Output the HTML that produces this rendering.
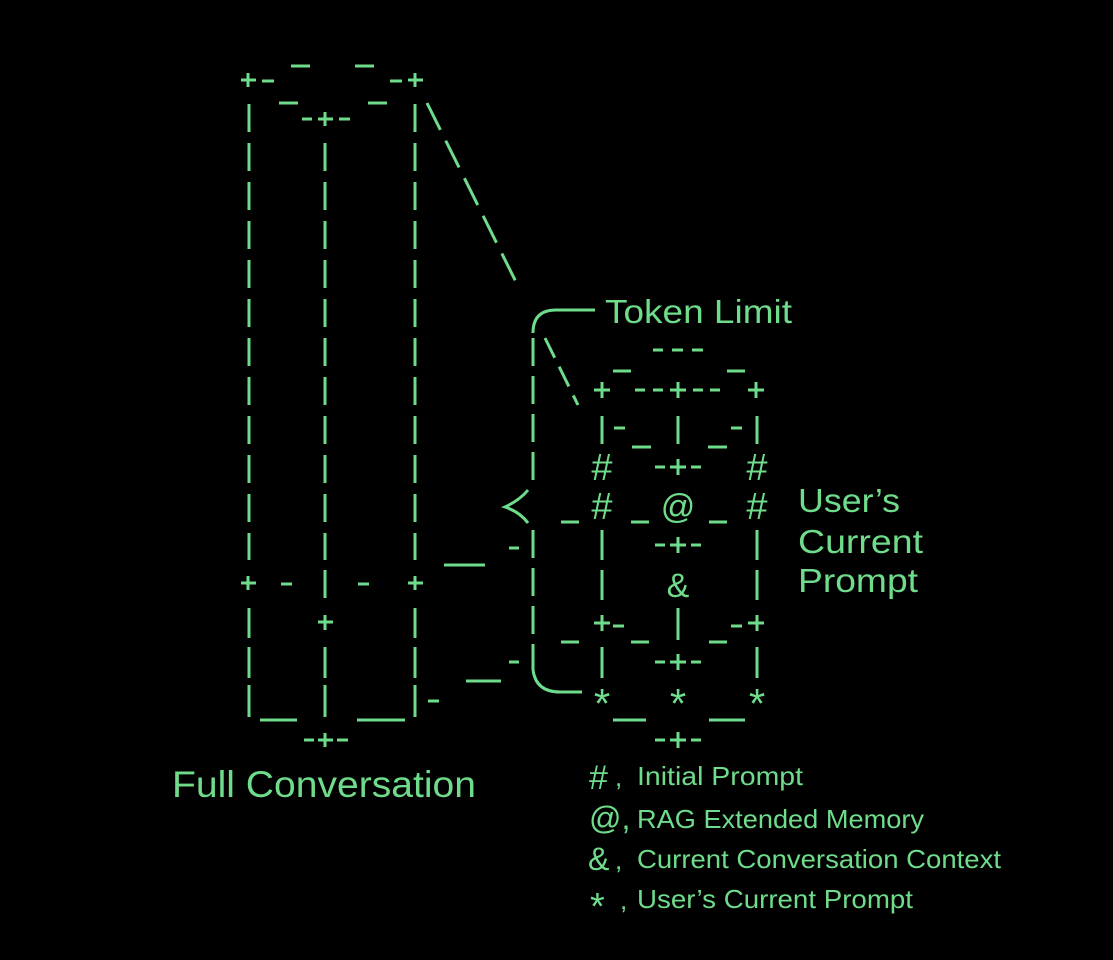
<!DOCTYPE html>
<html><head><meta charset="utf-8"><style>
html,body{margin:0;padding:0;background:#000;}
svg{display:block}
text{font-family:"Liberation Sans",sans-serif;fill:#6fdc8c}
</style></head><body>
<svg width="1113" height="960" viewBox="0 0 1113 960" xmlns="http://www.w3.org/2000/svg">
<rect width="1113" height="960" fill="#000"/>
<g stroke="#6fdc8c" stroke-width="3" fill="none" stroke-linecap="butt">
<line x1="241" y1="80" x2="256" y2="80"/><line x1="248" y1="73" x2="248" y2="87"/>
<line x1="262" y1="81" x2="274" y2="81"/>
<line x1="291" y1="66" x2="310" y2="66"/>
<line x1="355" y1="66" x2="374" y2="66"/>
<line x1="390" y1="81" x2="402" y2="81"/>
<line x1="408" y1="80" x2="423" y2="80"/><line x1="415" y1="73" x2="415" y2="87"/>
<line x1="279" y1="103" x2="298" y2="103"/>
<line x1="368" y1="103" x2="387" y2="103"/>
<line x1="302" y1="119" x2="312" y2="119"/><line x1="318" y1="119" x2="333" y2="119"/><line x1="325" y1="112" x2="325" y2="126"/><line x1="339" y1="119" x2="350" y2="119"/>
<path stroke-dasharray="28 11" d="M249 104 V560 M415 104 V560 M325 143 V560"/>
<line x1="241" y1="583" x2="256" y2="583"/><line x1="248" y1="576" x2="248" y2="590"/>
<line x1="281" y1="584" x2="292" y2="584"/>
<line x1="325" y1="570" x2="325" y2="598"/>
<line x1="358" y1="584" x2="369" y2="584"/>
<line x1="408" y1="583" x2="423" y2="583"/><line x1="415" y1="576" x2="415" y2="590"/>
<path d="M249 608 V638 M415 608 V638 M249 647 V678 M325 647 V678 M415 647 V678 M249 685 V717 M325 685 V717 M415 685 V717"/>
<line x1="318" y1="622" x2="333" y2="622"/><line x1="325" y1="615" x2="325" y2="630"/>
<line x1="260" y1="720" x2="297" y2="720"/><line x1="357" y1="720" x2="405" y2="720"/>
<line x1="428" y1="701" x2="439" y2="701"/>
<line x1="304" y1="740" x2="314" y2="740"/><line x1="318" y1="740" x2="333" y2="740"/><line x1="325" y1="733" x2="325" y2="747"/><line x1="337" y1="740" x2="348" y2="740"/>
<path stroke-dasharray="30 12" d="M427 103 L520 290"/>
<line x1="444" y1="565" x2="485" y2="565"/><line x1="509" y1="548" x2="519" y2="548"/>
<line x1="466" y1="681" x2="501" y2="681"/><line x1="509" y1="662" x2="519" y2="662"/>
<path d="M533 333 Q533 310 556 310 H595"/>
<path stroke-dasharray="28 10" d="M533 338 V485"/>
<path stroke-dasharray="28 10" d="M533 530 V670"/>
<path d="M533 670 Q536 692 560 692 H582"/>
<path d="M528 490 Q520 500 505 507 Q520 512 528 523"/>
<path stroke-dasharray="22 10" d="M545 338 L578 405"/>
<line x1="653" y1="350" x2="663" y2="350"/><line x1="672" y1="350" x2="683" y2="350"/><line x1="692" y1="350" x2="703" y2="350"/>
<line x1="613" y1="371" x2="631" y2="371"/><line x1="727" y1="371" x2="745" y2="371"/>
<line x1="594" y1="390" x2="610" y2="390"/><line x1="602" y1="382" x2="602" y2="398"/>
<line x1="635" y1="390" x2="645" y2="390"/><line x1="653" y1="390" x2="663" y2="390"/><line x1="670" y1="390" x2="686" y2="390"/><line x1="678" y1="382" x2="678" y2="398"/><line x1="693" y1="390" x2="703" y2="390"/><line x1="710" y1="390" x2="720" y2="390"/>
<line x1="748" y1="390" x2="764" y2="390"/><line x1="756" y1="382" x2="756" y2="398"/>
<path d="M602 416 V444 M678 416 V444 M757 416 V444"/>
<line x1="614" y1="428" x2="625" y2="428"/><line x1="632" y1="447" x2="651" y2="447"/><line x1="708" y1="447" x2="727" y2="447"/><line x1="731" y1="428" x2="742" y2="428"/>
<line x1="655" y1="467" x2="665" y2="467"/><line x1="670" y1="467" x2="686" y2="467"/><line x1="678" y1="459" x2="678" y2="475"/><line x1="691" y1="467" x2="701" y2="467"/>
<line x1="561" y1="522" x2="579" y2="522"/><line x1="631" y1="522" x2="649" y2="522"/><line x1="709" y1="522" x2="727" y2="522"/>
<path d="M602 530 V560 M757 530 V560 M602 570 V600 M757 570 V600 M678 608 V640 M602 647 V678 M757 647 V678"/>
<line x1="655" y1="545" x2="665" y2="545"/><line x1="670" y1="545" x2="686" y2="545"/><line x1="678" y1="537" x2="678" y2="553"/><line x1="691" y1="545" x2="701" y2="545"/>
<line x1="594" y1="623" x2="610" y2="623"/><line x1="602" y1="615" x2="602" y2="631"/><line x1="613" y1="626" x2="624" y2="626"/>
<line x1="731" y1="626" x2="742" y2="626"/><line x1="748" y1="623" x2="764" y2="623"/><line x1="757" y1="615" x2="757" y2="631"/>
<line x1="561" y1="642" x2="579" y2="642"/><line x1="631" y1="642" x2="649" y2="642"/><line x1="709" y1="642" x2="727" y2="642"/>
<line x1="655" y1="662" x2="665" y2="662"/><line x1="670" y1="662" x2="686" y2="662"/><line x1="678" y1="654" x2="678" y2="670"/><line x1="691" y1="662" x2="701" y2="662"/>
<line x1="613" y1="720" x2="646" y2="720"/><line x1="709" y1="720" x2="745" y2="720"/>
<line x1="655" y1="740" x2="665" y2="740"/><line x1="670" y1="740" x2="686" y2="740"/><line x1="678" y1="732" x2="678" y2="748"/><line x1="691" y1="740" x2="701" y2="740"/>
</g>
<g font-size="38" text-anchor="middle">
<text x="602" y="480">#</text><text x="757" y="480">#</text>
<text x="602" y="519">#</text><text x="757" y="519">#</text>
<text x="678" y="518" font-size="34">@</text>
<text x="678" y="597" font-size="34">&amp;</text>
<text x="602" y="718" font-size="42">*</text><text x="678" y="718" font-size="42">*</text><text x="757" y="718" font-size="42">*</text>
</g>
<text x="605" y="323" font-size="33" textLength="187" lengthAdjust="spacingAndGlyphs">Token Limit</text>
<text x="798" y="512" font-size="33" textLength="102" lengthAdjust="spacingAndGlyphs">User’s</text>
<text x="798" y="553" font-size="33" textLength="125" lengthAdjust="spacingAndGlyphs">Current</text>
<text x="798" y="592" font-size="33" textLength="120" lengthAdjust="spacingAndGlyphs">Prompt</text>
<text x="172" y="797" font-size="37" textLength="304" lengthAdjust="spacingAndGlyphs">Full Conversation</text>
<g font-size="26">
<text x="589" y="789" font-size="34">#</text><text x="615" y="786">,</text>
<text x="637" y="785" textLength="166" lengthAdjust="spacingAndGlyphs">Initial Prompt</text>
<text x="589" y="829" font-size="32">@,</text>
<text x="637" y="828" textLength="287" lengthAdjust="spacingAndGlyphs">RAG Extended Memory</text>
<text x="588" y="870" font-size="32">&amp;</text><text x="615" y="869">,</text>
<text x="637" y="868" textLength="364" lengthAdjust="spacingAndGlyphs">Current Conversation Context</text>
<text x="590" y="919" font-size="38">*</text><text x="620" y="909">,</text>
<text x="637" y="908" textLength="276" lengthAdjust="spacingAndGlyphs">User’s Current Prompt</text>
</g>
</svg>
</body></html>
